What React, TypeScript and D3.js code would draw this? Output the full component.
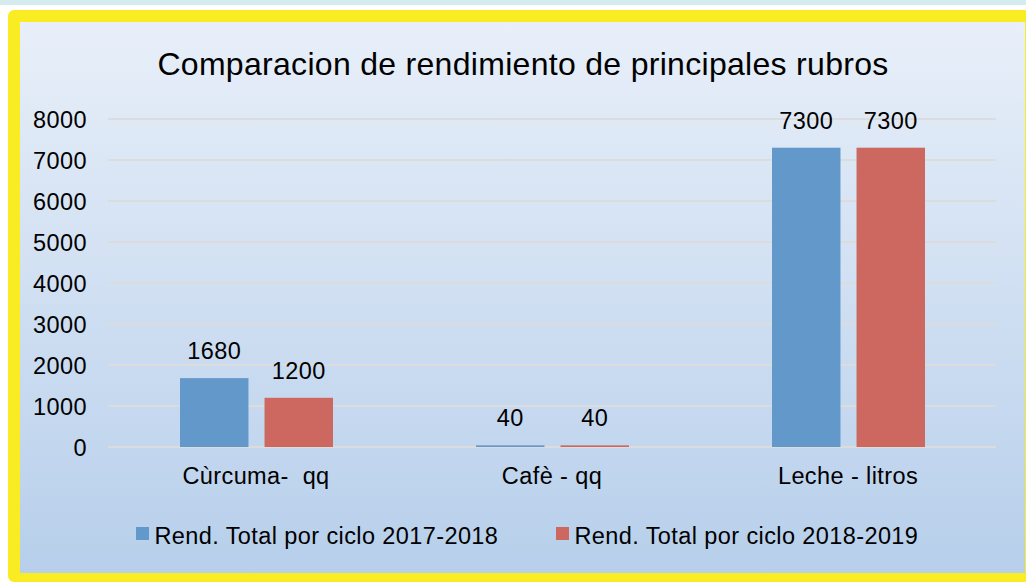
import React from "react";
import * as d3 from "d3";

const categories = ["Cùrcuma-  qq", "Cafè - qq", "Leche - litros"];
const seriesNames = [
  "Rend. Total por ciclo 2017-2018",
  "Rend. Total por ciclo 2018-2019",
];
const values2017 = [1680, 40, 7300];
const values2018 = [1200, 40, 7300];
const yTicks = [0, 1000, 2000, 3000, 4000, 5000, 6000, 7000, 8000];
const seriesColors = ["#6398ca", "#cd6860"];

function Chart() {
  const width = 1026;
  const height = 583;
  const plotLeft = 108;
  const plotRight = 996;
  const font = "'Liberation Sans', Arial, sans-serif";
  const labelSize = 23.5;
  const spacing = 0.4;

  const y = d3.scaleLinear().domain([0, 8000]).range([447, 119]);

  const x0 = d3
    .scaleBand()
    .domain(categories)
    .range([plotLeft, plotRight])
    .padding(0);

  const x1 = d3
    .scaleBand()
    .domain(seriesNames)
    .range([72, 225])
    .paddingInner(0.19)
    .paddingOuter(0);

  const series = [values2017, values2018];

  return (
    <svg
      width={width}
      height={height}
      style={{ position: "absolute", left: 0, top: 0, fontFamily: font }}
    >
      <defs>
        <linearGradient id="bg" x1="0" y1="0" x2="0" y2="1">
          <stop offset="0%" stopColor="#e8eff9" />
          <stop offset="100%" stopColor="#b7cfeb" />
        </linearGradient>
      </defs>
      <rect x={0} y={0} width={width} height={height} fill="#ffffff" />
      <rect x={0} y={0} width={width} height={5} fill="#d5ecee" />
      <rect x={8} y={10} width={1040} height={572} rx={6} fill="#faec22" />
      <rect x={20} y={22} width={1005} height={551} fill="url(#bg)" />

      <text
        x={523}
        y={75}
        textAnchor="middle"
        fontSize={32}
        letterSpacing={0.3}
        fill="#000"
      >
        Comparacion de rendimiento de principales rubros
      </text>

      <g>
        {yTicks.map((t) => (
          <g key={t}>
            <line
              x1={plotLeft}
              x2={plotRight}
              y1={y(t)}
              y2={y(t)}
              stroke="#dcdcdc"
              strokeWidth={2}
            />
            <text
              x={87}
              y={y(t)}
              dy="0.38em"
              textAnchor="end"
              fontSize={labelSize}
              letterSpacing={spacing}
              fill="#000"
            >
              {t}
            </text>
          </g>
        ))}
      </g>

      <g>
        {categories.map((c, i) => (
          <g key={c} transform={`translate(${x0(c)},0)`}>
            {seriesNames.map((s, j) => {
              const v = series[j][i];
              const bx = x1(s) as number;
              return (
                <g key={s}>
                  <rect
                    x={bx}
                    y={y(v)}
                    width={x1.bandwidth()}
                    height={y(0) - y(v)}
                    fill={seriesColors[j]}
                  />
                  <text
                    x={bx + x1.bandwidth() / 2}
                    y={y(v) - 19}
                    textAnchor="middle"
                    fontSize={labelSize}
                    letterSpacing={spacing}
                    fill="#000"
                  >
                    {v}
                  </text>
                </g>
              );
            })}
            <text
              x={x0.bandwidth() / 2}
              y={484}
              textAnchor="middle"
              fontSize={labelSize}
              letterSpacing={spacing}
              fill="#000"
              style={{ whiteSpace: "pre" }}
            >
              {c}
            </text>
          </g>
        ))}
      </g>

      <g>
        {seriesNames.map((s, i) => {
          const lx = i === 0 ? 136 : 556;
          return (
            <g key={s} transform={`translate(${lx},527)`}>
              <rect width={13} height={13} fill={seriesColors[i]} />
              <text
                x={18.5}
                y={17}
                fontSize={labelSize}
                letterSpacing={spacing}
                fill="#000"
              >
                {s}
              </text>
            </g>
          );
        })}
      </g>
    </svg>
  );
}

export default function App() {
  return <Chart />;
}
